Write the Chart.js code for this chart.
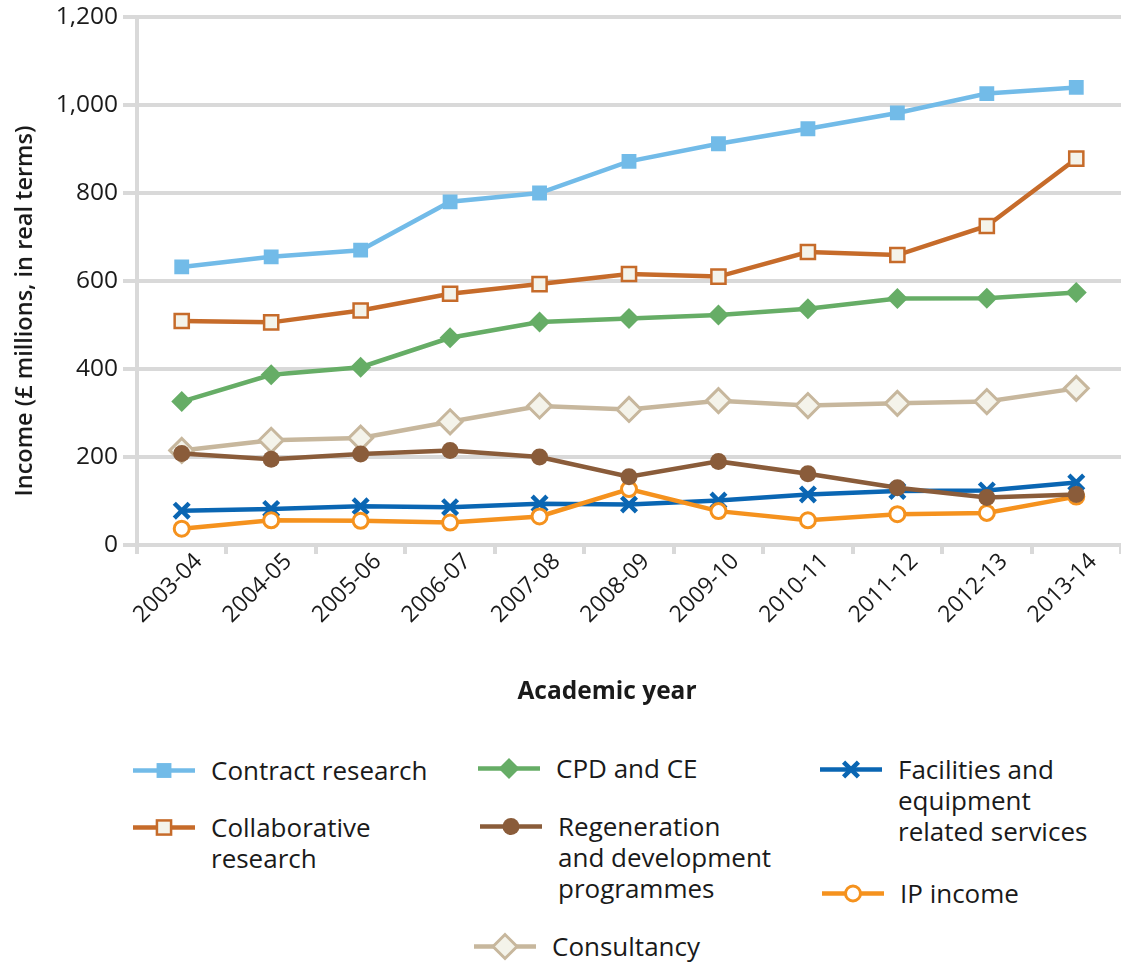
<!DOCTYPE html>
<html>
<head>
<meta charset="utf-8">
<script src="https://cdn.jsdelivr.net/npm/chart.js@4.4.0/dist/chart.umd.min.js"></script>
<style>
  body { margin: 0; background: #fff; font-family: "Open Sans", sans-serif; }
  #wrap { position: relative; width: 1121px; height: 965px; }
  #chartBox { position: absolute; left: 0; top: 0; width: 1121px; height: 708px; }
  #xTitle { position: absolute; left: 407px; width: 400px; top: 672px; text-align: center;
            font-size: 24.5px; font-weight: 700; line-height: 36px; color: #1a1a1a; }
  #yTitle { position: absolute; left: 23px; top: 311px; width: 420px; margin-left: -210px; margin-top: -16px;
            text-align: center; font-size: 23.5px; font-weight: 600; line-height: 32px; color: #1a1a1a;
            transform: rotate(-90deg); white-space: nowrap; }
  .item { position: absolute; display: flex; align-items: flex-start; }
  .item svg { flex: none; }
  .item span { font-size: 26px; line-height: 31px; color: #1a1a1a; margin-left: 16px; }
</style>
</head>
<body>
<div id="wrap">
  <div id="chartBox"><canvas id="incomeChart"></canvas></div>
  <div id="yTitle">Income (£ millions, in real terms)</div>
  <div id="xTitle">Academic year</div>
  <div id="legend"></div>
</div>
<script>
"use strict";

// academic years on the x axis
const years = ["2003-04", "2004-05", "2005-06", "2006-07", "2007-08", "2008-09",
               "2009-10", "2010-11", "2011-12", "2012-13", "2013-14"];

// income, £ millions in real terms
const contractResearch = [632, 655, 670, 780, 800, 872, 912, 946, 982, 1026, 1040];
const collaborativeResearch = [509, 506, 533, 571, 593, 616, 610, 666, 659, 725, 878];
const cpdAndCe = [326, 387, 404, 471, 507, 515, 523, 537, 560, 561, 574];
const consultancy = [215, 238, 243, 280, 316, 308, 328, 317, 322, 326, 356];
const regeneration = [208, 195, 207, 215, 200, 155, 190, 162, 130, 108, 115];
const facilities = [78, 82, 88, 86, 94, 92, 101, 115, 123, 124, 142];
const ipIncome = [37, 56, 55, 51, 65, 127, 77, 56, 70, 73, 110];

const yTicks = [0, 200, 400, 600, 800, 1000, 1200];

const GRID = "#d9d9d9";
const TEXT = "#1a1a1a";
const PALE = "#f4f3ea";

const series = [
  { label: "Contract research", data: contractResearch, color: "#72bbe8", style: "rect", fill: "#72bbe8", r: 10.5, bw: 0, z: 1,
    legend: { x: 133, y: 755 }, text: ["Contract research"] },
  { label: "Collaborative research", data: collaborativeResearch, color: "#c66b2a", style: "rect", fill: PALE, r: 10, bw: 2.5, z: 2,
    legend: { x: 133, y: 812 }, text: ["Collaborative", "research"] },
  { label: "CPD and CE", data: cpdAndCe, color: "#66ad66", style: "rectRot", fill: "#66ad66", r: 10.5, bw: 0, z: 3,
    legend: { x: 478, y: 753 }, text: ["CPD and CE"] },
  { label: "Consultancy", data: consultancy, color: "#c7b79d", style: "rectRot", fill: PALE, r: 12, bw: 3, z: 7,
    legend: { x: 474, y: 931 }, text: ["Consultancy"] },
  { label: "Regeneration and development programmes", data: regeneration, color: "#8a5c3a", style: "circle", fill: "#8a5c3a", r: 8.5, bw: 0, z: 4,
    legend: { x: 480, y: 811 }, text: ["Regeneration", "and development", "programmes"] },
  { label: "Facilities and equipment related services", data: facilities, color: "#0a66b3", style: "crossRot", fill: "#0a66b3", r: 10.5, bw: 4.5, z: 6,
    legend: { x: 820, y: 754 }, text: ["Facilities and", "equipment", "related services"] },
  { label: "IP income", data: ipIncome, color: "#f5921e", style: "circle", fill: "#ffffff", r: 7.5, bw: 3, z: 5,
    legend: { x: 822, y: 878 }, text: ["IP income"] }
];

const datasets = series.map(s => ({
  label: s.label,
  data: s.data,
  borderColor: s.color,
  borderWidth: 4.5,
  pointStyle: s.style,
  pointRadius: s.r,
  pointBackgroundColor: s.fill,
  pointBorderColor: s.color,
  pointBorderWidth: s.bw,
  tension: 0,
  fill: false,
  order: s.z
}));

Chart.defaults.font.family = '"Open Sans", sans-serif';
Chart.defaults.color = TEXT;

new Chart(document.getElementById("incomeChart"), {
  type: "line",
  data: { labels: years, datasets },
  options: {
    responsive: true,
    maintainAspectRatio: false,
    animation: false,
    layout: { autoPadding: false, padding: { top: 17, right: 0, left: 0, bottom: 0 } },
    plugins: { legend: { display: false }, tooltip: { enabled: false } },
    scales: {
      x: {
        offset: true,
        grid: { offset: true, drawOnChartArea: false, color: GRID, lineWidth: 4, tickLength: 9 },
        border: { color: GRID, width: 4 },
        ticks: { minRotation: 45, maxRotation: 45, font: { size: 23 }, color: TEXT, padding: -6, labelOffset: 17 },
        afterFit: s => { s.height = 163; s.paddingLeft = 0; s.paddingRight = 0; }
      },
      y: {
        min: 0,
        max: 1200,
        afterBuildTicks: s => { s.ticks = yTicks.map(v => ({ value: v })); },
        grid: { color: GRID, lineWidth: 4, tickLength: 14 },
        border: { color: GRID, width: 4 },
        ticks: { font: { size: 24.5 }, color: TEXT, padding: 5, callback: v => v.toLocaleString("en-GB") },
        afterFit: s => { s.width = 137; s.paddingTop = 0; s.paddingBottom = 0; }
      }
    }
  }
});

// legend built from the same series list
function markerSvg(s) {
  const cx = 31, cy = 15.5;
  let m = "";
  if (s.style === "rect") {
    const h = s.r * Math.SQRT1_2;
    m = `<rect x="${cx - h}" y="${cy - h}" width="${2 * h}" height="${2 * h}" fill="${s.fill}" stroke="${s.color}" stroke-width="${s.bw}"/>`;
  } else if (s.style === "rectRot") {
    const r = s.r;
    m = `<polygon points="${cx - r},${cy} ${cx},${cy - r} ${cx + r},${cy} ${cx},${cy + r}" fill="${s.fill}" stroke="${s.color}" stroke-width="${s.bw}"/>`;
  } else if (s.style === "circle") {
    m = `<circle cx="${cx}" cy="${cy}" r="${s.r}" fill="${s.fill}" stroke="${s.color}" stroke-width="${s.bw}"/>`;
  } else if (s.style === "crossRot") {
    const d = s.r * Math.SQRT1_2;
    m = `<path d="M${cx - d} ${cy - d}L${cx + d} ${cy + d}M${cx + d} ${cy - d}L${cx - d} ${cy + d}" stroke="${s.color}" stroke-width="${s.bw}"/>`;
  }
  return `<svg width="62" height="31"><line x1="0" y1="${cy}" x2="62" y2="${cy}" stroke="${s.color}" stroke-width="4.5"/>${m}</svg>`;
}

const legendEl = document.getElementById("legend");
series.forEach(s => {
  const div = document.createElement("div");
  div.className = "item";
  div.style.left = s.legend.x + "px";
  div.style.top = s.legend.y + "px";
  div.innerHTML = markerSvg(s) + `<span>${s.text.join("<br>")}</span>`;
  legendEl.appendChild(div);
});
</script>
</body>
</html>
